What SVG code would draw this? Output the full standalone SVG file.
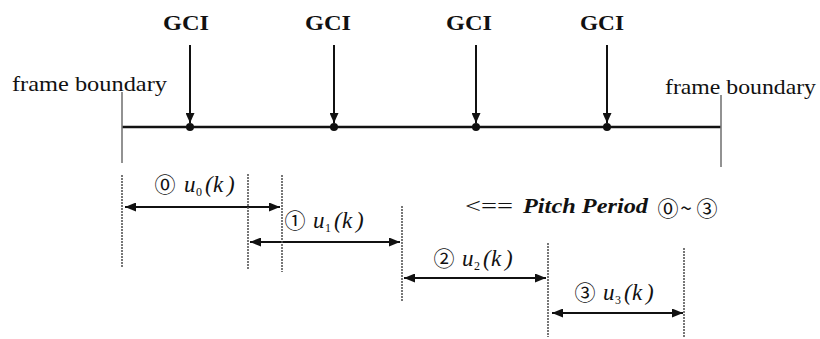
<svg xmlns="http://www.w3.org/2000/svg" width="820" height="339" viewBox="0 0 820 339">
<style>
.t{font-family:"Liberation Serif","Times New Roman",serif;fill:#111}
.gci{font-size:22px;font-weight:bold;text-anchor:middle}
.fb{font-size:21px}
.m{font-size:23px;font-style:italic}
.sub{font-size:12px;font-style:normal}
.c{font-family:"Noto Sans CJK KR","DejaVu Sans",sans-serif;font-size:21px;text-anchor:middle;fill:#111}
.main{stroke:#111;stroke-width:2.5;fill:none}
.gciarr{stroke:#111;stroke-width:2;fill:none}
.fbl{stroke:#777;stroke-width:1.6;fill:none}
.dash{stroke:#555;stroke-width:1.6;stroke-dasharray:2 1;fill:none}
.span{stroke:#111;stroke-width:2;fill:none}
</style>
<defs>
<marker id="down" markerUnits="userSpaceOnUse" markerWidth="9" markerHeight="10" refX="4.5" refY="10" orient="0" viewBox="0 0 9 10">
<path d="M0,0 L9,0 L4.5,10 z" fill="#111"/>
</marker>
<marker id="ah" markerUnits="userSpaceOnUse" markerWidth="11" markerHeight="9" refX="11" refY="4.5" orient="auto-start-reverse" viewBox="0 0 11 9">
<path d="M0,0 L11,4.5 L0,9 z" fill="#111"/>
</marker>
</defs>

<g id="connectors">
<line class="main" x1="122" y1="127" x2="721" y2="127"/>
<line class="gciarr" x1="190" y1="45" x2="190" y2="123" marker-end="url(#down)"/>
<line class="gciarr" x1="334" y1="45" x2="334" y2="123" marker-end="url(#down)"/>
<line class="gciarr" x1="476" y1="45" x2="476" y2="123" marker-end="url(#down)"/>
<line class="gciarr" x1="607" y1="45" x2="607" y2="123" marker-end="url(#down)"/>
<line class="span" x1="125" y1="207" x2="280" y2="207" marker-start="url(#ah)" marker-end="url(#ah)"/>
<line class="span" x1="250" y1="242" x2="400" y2="242" marker-start="url(#ah)" marker-end="url(#ah)"/>
<line class="span" x1="404" y1="278" x2="546" y2="278" marker-start="url(#ah)" marker-end="url(#ah)"/>
<line class="span" x1="552" y1="313" x2="683" y2="313" marker-start="url(#ah)" marker-end="url(#ah)"/>
</g>

<g id="gci-points">
<circle cx="190" cy="127" r="4" fill="#111"/>
<circle cx="334" cy="127" r="4" fill="#111"/>
<circle cx="476" cy="127" r="4" fill="#111"/>
<circle cx="607" cy="127" r="4" fill="#111"/>
<text class="t gci" x="186" y="30" textLength="46" lengthAdjust="spacingAndGlyphs">GCI</text>
<text class="t gci" x="328" y="30" textLength="46" lengthAdjust="spacingAndGlyphs">GCI</text>
<text class="t gci" x="469" y="30" textLength="46" lengthAdjust="spacingAndGlyphs">GCI</text>
<text class="t gci" x="602" y="30" textLength="44" lengthAdjust="spacingAndGlyphs">GCI</text>
</g>

<g id="frame-left">
<line class="fbl" x1="122" y1="92" x2="122" y2="163"/>
<text class="t fb" x="12" y="91" textLength="155" lengthAdjust="spacingAndGlyphs">frame boundary</text>
</g>
<g id="frame-right">
<line class="fbl" x1="721" y1="95" x2="721" y2="167"/>
<text class="t fb" x="665" y="94" textLength="151" lengthAdjust="spacingAndGlyphs">frame boundary</text>
</g>

<g id="markers">
<line class="dash" x1="122" y1="175" x2="122" y2="268"/>
<line class="dash" x1="248" y1="174" x2="248" y2="270"/>
<line class="dash" x1="282" y1="175" x2="282" y2="272"/>
<line class="dash" x1="402" y1="206" x2="402" y2="302"/>
<line class="dash" x1="548" y1="243" x2="548" y2="337"/>
<line class="dash" x1="684" y1="248" x2="684" y2="337"/>
</g>

<g id="period-0">
<text class="c" x="165" y="192">⓪</text>
<text class="t m" y="192"><tspan x="184">u</tspan><tspan class="sub" x="196" y="196">0</tspan><tspan x="205" y="192">(</tspan><tspan x="213">k</tspan><tspan x="227">)</tspan></text>
</g>
<g id="period-1">
<text class="c" x="295" y="228">①</text>
<text class="t m" y="228"><tspan x="313">u</tspan><tspan class="sub" x="325" y="232">1</tspan><tspan x="334" y="228">(</tspan><tspan x="342">k</tspan><tspan x="356">)</tspan></text>
</g>
<g id="period-2">
<text class="c" x="444" y="266">②</text>
<text class="t m" y="266"><tspan x="462">u</tspan><tspan class="sub" x="474" y="270">2</tspan><tspan x="483" y="266">(</tspan><tspan x="491">k</tspan><tspan x="505">)</tspan></text>
</g>
<g id="period-3">
<text class="c" x="585" y="300">③</text>
<text class="t m" y="300"><tspan x="603">u</tspan><tspan class="sub" x="615" y="304">3</tspan><tspan x="624" y="300">(</tspan><tspan x="632">k</tspan><tspan x="646">)</tspan></text>
</g>

<g id="legend">
<text class="t" y="213" font-size="22"><tspan x="465" textLength="48" lengthAdjust="spacingAndGlyphs">&lt;==</tspan><tspan x="523" font-weight="bold" font-style="italic" textLength="125" lengthAdjust="spacingAndGlyphs">Pitch Period</tspan></text>
<text class="c" y="216" font-size="27"><tspan x="668">⓪</tspan><tspan x="686">~</tspan><tspan x="707">③</tspan></text>
</g>
</svg>
